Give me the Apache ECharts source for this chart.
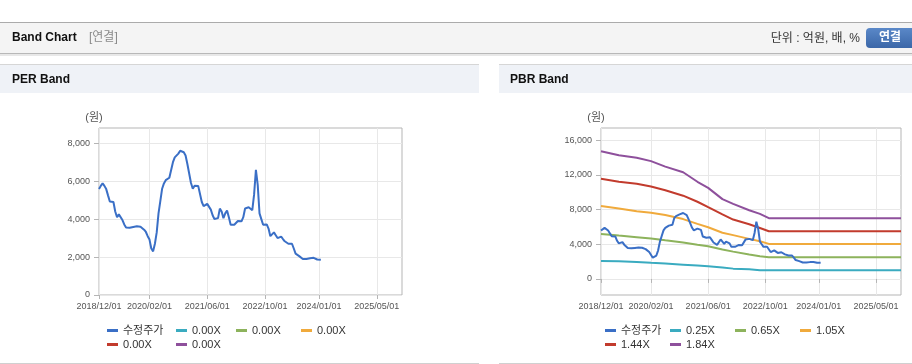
<!DOCTYPE html>
<html>
<head>
<meta charset="utf-8">
<script src="https://cdn.jsdelivr.net/npm/echarts@6/dist/echarts.min.js"></script>
<style>
html,body{margin:0;padding:0;background:#fff;}
#chart{width:912px;height:364px;}
</style>
</head>
<body>
<div id="chart"></div>
<script>
// ---------- data ----------
// semi-monthly category dates 2018/12/01 .. 2025/12/01
const categories = [];
for (let y = 2018; y <= 2025; y++) {
  for (let m = 1; m <= 12; m++) {
    if (y === 2018 && m < 12) continue;
    const mm = (m < 10 ? '0' : '') + m;
    categories.push(y + '/' + mm + '/01');
    if (!(y === 2025 && m === 12)) categories.push(y + '/' + mm + '/15');
  }
}
const tickLabels = ['2018/12/01', '2020/02/01', '2021/06/01', '2022/10/01', '2024/01/01', '2025/05/01'];

// 수정주가 (adjusted price), one value per category starting 2018/12/01
const priceValues = [5580,5750,5890,5750,5580,5250,4930,4960,4900,4400,
  4100,4250,4250,3950,3720,3560,3540,3540,3550,3580,
  3600,3620,3650,3600,3540,3440,3320,3100,2920,2450,
  2300,2700,3300,4300,4950,5600,5880,6050,6150,6180,
  6250,7000,7250,7300,7450,7600,7600,7520,7350,6900,
  6400,5900,5600,5760,5800,5750,5650,4900,4680,4750,
  4800,4800,4500,4200,4000,3930,4050,4550,4400,4050,
  4300,4450,4100,3700,3700,3700,3750,3900,3920,3880,
  4100,4560,4620,4620,4580,4470,5300,6600,5800,4300,
  4000,3700,3620,3720,3500,3100,3180,3300,3150,3000,
  3050,3080,2950,2830,2750,2700,2700,2700,2450,2180,
  2120,2050,1960,1900,1880,1900,1910,1940,1990,1960,
  1890,1870,1860,1860];

// PBR band key points
const bandDates = ['2018/12/01','2019/05/01','2019/10/01','2020/02/01','2020/06/01','2020/11/01','2021/03/01','2021/06/01','2021/10/01','2022/01/01','2022/05/15','2022/08/15','2022/11/01','2025/12/01'];
const band025 = [2080,2040,1950,1860,1780,1650,1550,1460,1330,1190,1120,1000,1000,1000];
const band065 = [5190,5000,4820,4660,4450,4200,3950,3770,3400,3150,2810,2620,2500,2500];
const band105 = [8420,8130,7800,7620,7370,6900,6350,5960,5330,5050,4620,4350,4040,4040];
const band144 = [11540,11200,10980,10650,10220,9600,8900,8270,7450,6850,6300,5880,5500,5500];
const band184 = [14730,14250,13980,13580,12950,12300,11200,10500,9200,8650,7920,7500,7000,7000];

const priceName = '수정주가';
const pbrBandNames = ['0.25X', '0.65X', '1.05X', '1.44X', '1.84X'];
const perBandIds = ['PER_b1', 'PER_b2', 'PER_b3', 'PER_b4', 'PER_b5'];
const perBandLabels = ['0.00X', '0.00X', '0.00X', '0.00X', '0.00X'];
const perYTicks = [0, 2000, 4000, 6000, 8000];
const pbrYTicks = [0, 4000, 8000, 12000, 16000];

// ---------- style ----------
const FF = '"Liberation Sans", Arial, "Noto Sans CJK KR", sans-serif';
const colors = {
  price: '#3a6fc6', c1: '#3aabc0', c2: '#8db35c', c3: '#f0aa3c', c4: '#c23b2d', c5: '#8e509c'
};
const bandColors = [colors.c1, colors.c2, colors.c3, colors.c4, colors.c5];

const pair = (vals) => bandDates.map((d, i) => [d, vals[i]]);
const pbrBands = [band025, band065, band105, band144, band184];

function xAxisDef(gi) {
  const show = (i, v) => tickLabels.indexOf(v) >= 0;
  return {
    gridIndex: gi, type: 'category', boundaryGap: false, data: categories,
    axisLine: { show: false },
    axisTick: { show: true, interval: show, length: 4, lineStyle: { color: '#b5b5b5' } },
    axisLabel: { interval: show, fontSize: 9, color: '#555', margin: 7, fontFamily: FF },
    splitLine: { show: true, interval: show, lineStyle: { color: '#e8e8e8' } }
  };
}
const fmt = (v) => v.toLocaleString('en-US');

const series = [];
// PER chart
series.push({ name: priceName, type: 'line', xAxisIndex: 0, yAxisIndex: 0, data: priceValues,
  symbol: 'none', lineStyle: { width: 2, color: colors.price }, itemStyle: { color: colors.price } });
perBandIds.forEach((id, k) => series.push({ name: id, type: 'line', xAxisIndex: 0, yAxisIndex: 0, data: [],
  symbol: 'none', lineStyle: { width: 2, color: bandColors[k] }, itemStyle: { color: bandColors[k] } }));
// PBR chart
pbrBandNames.forEach((nm, k) => series.push({ name: nm, type: 'line', xAxisIndex: 1, yAxisIndex: 1, data: pair(pbrBands[k]),
  symbol: 'none', lineStyle: { width: 2, color: bandColors[k] }, itemStyle: { color: bandColors[k] } }));
series.push({ name: priceName, type: 'line', xAxisIndex: 1, yAxisIndex: 1, data: priceValues, z: 5,
  symbol: 'none', lineStyle: { width: 2, color: colors.price }, itemStyle: { color: colors.price } });

// legends
function leg(name, left, top, label) {
  return { left: left, top: top, data: [name], icon: 'rect', itemWidth: 11, itemHeight: 3, padding: 0,
    selectedMode: false, textStyle: { fontSize: 11, color: '#333', fontFamily: FF },
    formatter: label ? () => label : undefined };
}
const row1 = 325, row2 = 339;
const legends = [
  leg(priceName, 107, row1),
  leg(perBandIds[0], 176, row1, perBandLabels[0]),
  leg(perBandIds[1], 236, row1, perBandLabels[1]),
  leg(perBandIds[2], 301, row1, perBandLabels[2]),
  leg(perBandIds[3], 107, row2, perBandLabels[3]),
  leg(perBandIds[4], 176, row2, perBandLabels[4]),
  leg(priceName, 605, row1),
  leg(pbrBandNames[0], 670, row1),
  leg(pbrBandNames[1], 735, row1),
  leg(pbrBandNames[2], 800, row1),
  leg(pbrBandNames[3], 605, row2),
  leg(pbrBandNames[4], 670, row2)
];

const graphics = [
  { type: 'rect', shape: { x: 0, y: 22, width: 912, height: 1 }, style: { fill: '#ababab' }, silent: true },
  { type: 'rect', shape: { x: 0, y: 23, width: 912, height: 30 }, style: { fill: '#f4f4f4' }, silent: true },
  { type: 'rect', shape: { x: 0, y: 53, width: 912, height: 1 }, style: { fill: '#b8b8b8' }, silent: true },
  { type: 'rect', shape: { x: 0, y: 54, width: 912, height: 2 }, style: { fill: '#e8e8e8' }, silent: true },
  { type: 'text', x: 12, y: 38, style: { text: 'Band Chart', fill: '#111', font: 'bold 12px ' + FF, verticalAlign: 'middle' } },
  { type: 'text', x: 89, y: 38, style: { text: '[연결]', fill: '#8a8a8a', font: '12px ' + FF, verticalAlign: 'middle' } },
  { type: 'text', x: 860, y: 39, style: { text: '단위 : 억원, 배, %', fill: '#333', font: '12px ' + FF, verticalAlign: 'middle', align: 'right' } },
  { type: 'rect', shape: { x: 866, y: 28, width: 52, height: 20, r: 4 },
    style: { fill: new echarts.graphic.LinearGradient(0, 0, 0, 1, [{ offset: 0, color: '#5a88c8' }, { offset: 1, color: '#3b67a8' }]) }, silent: true },
  { type: 'text', x: 890, y: 38, style: { text: '연결', fill: '#fff', font: 'bold 12px ' + FF, verticalAlign: 'middle', align: 'center' } },
  // panels
  { type: 'rect', shape: { x: 0, y: 64, width: 479, height: 1 }, style: { fill: '#d6d6d6' }, silent: true },
  { type: 'rect', shape: { x: 0, y: 65, width: 479, height: 28 }, style: { fill: '#eff2f7' }, silent: true },
  { type: 'rect', shape: { x: 499, y: 64, width: 413, height: 1 }, style: { fill: '#d6d6d6' }, silent: true },
  { type: 'rect', shape: { x: 499, y: 65, width: 413, height: 28 }, style: { fill: '#eff2f7' }, silent: true },
  { type: 'text', x: 12, y: 80, style: { text: 'PER Band', fill: '#111', font: 'bold 12px ' + FF, verticalAlign: 'middle' } },
  { type: 'text', x: 510, y: 80, style: { text: 'PBR Band', fill: '#111', font: 'bold 12px ' + FF, verticalAlign: 'middle' } },
  { type: 'rect', shape: { x: 0, y: 363, width: 479, height: 1 }, style: { fill: '#d0d0d0' }, silent: true },
  { type: 'rect', shape: { x: 499, y: 363, width: 413, height: 1 }, style: { fill: '#d0d0d0' }, silent: true }
];

function yAxisDef(gi, min, max, ticks) {
  return {
    gridIndex: gi, type: 'value', min: min, max: max,
    name: '(원)', nameLocation: 'end', nameGap: 5,
    nameTextStyle: { fontSize: 11, color: '#555', fontFamily: FF, padding: [0, 10, 0, 0] },
    axisLine: { show: false },
    axisTick: { show: true, length: 5, customValues: ticks, lineStyle: { color: '#b5b5b5' } },
    axisLabel: { customValues: ticks, fontSize: 9, color: '#555', margin: 9, fontFamily: FF, formatter: fmt },
    splitLine: { show: true, lineStyle: { color: '#e8e8e8' } }
  };
}

const option = {
  animation: false,
  backgroundColor: '#fff',
  graphic: graphics,
  legend: legends,
  grid: [
    { left: 99, top: 128, width: 303, height: 167, show: true, borderColor: '#b5b5b5', borderWidth: 1, backgroundColor: 'transparent' },
    { left: 601, top: 128, width: 300, height: 167, show: true, borderColor: '#b5b5b5', borderWidth: 1, backgroundColor: 'transparent' }
  ],
  xAxis: [xAxisDef(0), xAxisDef(1)],
  yAxis: [yAxisDef(0, 0, 8800, perYTicks), yAxisDef(1, -1850, 17400, pbrYTicks)],
  series: series
};

const chart = echarts.init(document.getElementById('chart'));
chart.setOption(option);
</script>
</body>
</html>
